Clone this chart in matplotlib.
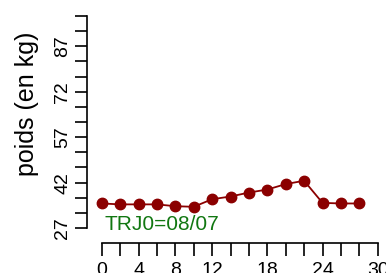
import matplotlib
matplotlib.use("Agg")
import matplotlib.pyplot as plt
import numpy as np

# jours depuis TRJ0 et poids (kg)
jours = [0, 2, 4, 6, 8, 10, 12, 14, 16, 18, 20, 22, 24, 26, 28]
poids = [35.1, 34.8, 34.8, 34.8, 34.2, 34.0, 36.5, 37.4, 38.7, 39.7, 41.5, 42.6, 35.3, 35.1, 35.1]

x_ticks = list(range(0, 31, 2))
x_labels = ["0", "4", "8", "12", "18", "24", "30"]
y_ticks = list(range(27, 98, 5))
y_labels = ["27", "42", "57", "72", "87"]

plt.rcParams["font.family"] = ["Liberation Sans", "DejaVu Sans"]

fig = plt.figure(figsize=(3.86, 2.73), dpi=100)
ax = fig.add_axes([101.7 / 386, 45 / 273, 276 / 386, 212 / 273])

ax.plot(jours, poids, color="#8b0000", lw=1.3, marker="o", ms=7.5,
        clip_on=False, zorder=3)

ax.set_xlim(0, 30)
ax.set_ylim(27, 97)

for s in ["top", "right"]:
    ax.spines[s].set_visible(False)
ax.spines["left"].set_position(("outward", 10.8))
ax.spines["bottom"].set_position(("outward", 11))
ax.spines["left"].set_bounds(27, 97)
ax.spines["bottom"].set_bounds(0, 30)
for s in ["left", "bottom"]:
    ax.spines[s].set_linewidth(1.2)

ax.set_xticks(x_ticks)
ax.set_xticklabels([str(t) if str(t) in x_labels else "" for t in x_ticks])
ax.set_yticks(y_ticks)
ax.set_yticklabels([str(t) if str(t) in y_labels else "" for t in y_ticks],
                   rotation=90, va="center")
ax.tick_params(axis="both", length=9, width=1.2, labelsize=14)
ax.tick_params(axis="x", pad=4.5)
ax.tick_params(axis="y", pad=2)

ax.text(0.3, 28.1, "TRJ0=08/07", color="#117711", fontsize=15,
        ha="left", va="center")

fig.text(27 / 386, 1 - 103.5 / 273, "poids (en kg)", rotation=90,
         ha="center", va="center", fontsize=18)

fig.savefig("out.png", dpi=100)
